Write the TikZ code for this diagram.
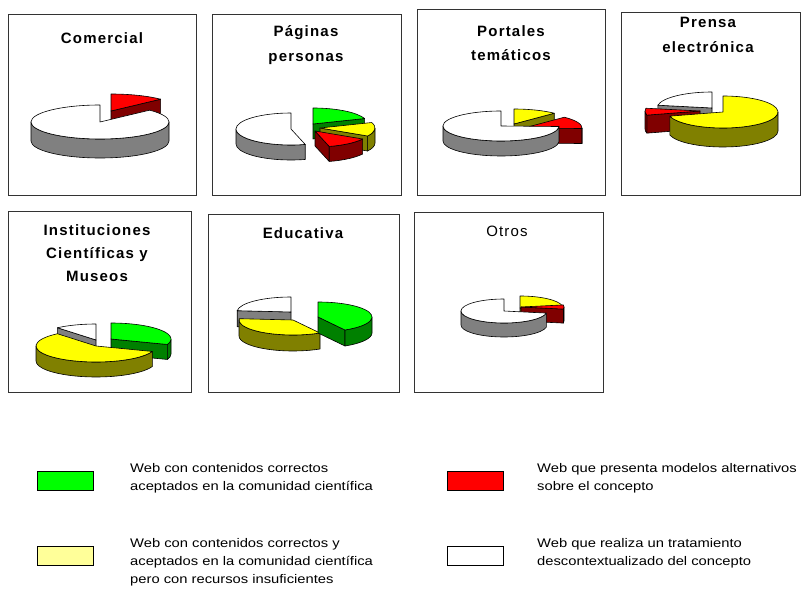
\documentclass[tikz,border=0pt]{standalone}
\usepackage{fontspec}
\setmainfont{Liberation Sans}
\newfontfamily\ttlfont[LetterSpace=8]{Liberation Sans}
\newfontfamily\legfont[FakeStretch=1.18]{Liberation Sans}
\definecolor{pgreen}{HTML}{00FF00}
\definecolor{dgreen}{HTML}{008000}
\definecolor{pyellow}{HTML}{FFFF00}
\definecolor{dyellow}{HTML}{808000}
\definecolor{pred}{HTML}{FF0000}
\definecolor{dred}{HTML}{800000}
\definecolor{pwhite}{HTML}{FFFFFF}
\definecolor{dwhite}{HTML}{808080}
\definecolor{lyellow}{HTML}{FFFF99}
\tikzset{
  slice/.style={draw=black,line width=0.6pt,line join=round},
  panel/.style={draw=black!80,line width=0.8pt,fill=white},
  ttl/.style={anchor=base,inner sep=0pt,font=\ttlfont\bfseries\fontsize{15}{18}\selectfont},
  legbox/.style={draw=black,line width=0.6pt,minimum width=56pt,minimum height=19pt,inner sep=0pt},
  legtxt/.style={anchor=north west,inner sep=0pt,align=left,font=\legfont\fontsize{12.5}{18}\selectfont}
}
% #1 cx, #2 cy, #3 rx, #4 ry, #5 h, #6 start, #7 end, #8 top colour, #9 side colour
\newcommand\pieslice[9]{%
\begingroup
\pgfmathtruncatemacro\pvA{cos(#6)>0.02}%
\pgfmathtruncatemacro\pvB{cos(#7)<-0.02}%
\ifnum\pvA=1
 \filldraw[slice,fill=#9] (#1,#2) -- ++(#6:#3pt and #4pt) -- ++(0,-#5) -- ++({-#3*cos(#6)},{-#4*sin(#6)}) -- cycle;
\fi
\ifnum\pvB=1
 \filldraw[slice,fill=#9] (#1,#2) -- ++(#7:#3pt and #4pt) -- ++(0,-#5) -- ++({-#3*cos(#7)},{-#4*sin(#7)}) -- cycle;
\fi
\pgfmathsetmacro\psA{max(#6,180)}%
\pgfmathsetmacro\peA{min(#7,360)}%
\pgfmathtruncatemacro\phA{\peA>\psA+0.5}%
\ifnum\phA=1
 \filldraw[slice,fill=#9] (#1,#2) ++(\psA:#3pt and #4pt) arc[start angle=\psA,end angle=\peA,x radius=#3pt,y radius=#4pt] -- ++(0,-#5) arc[start angle=\peA,end angle=\psA,x radius=#3pt,y radius=#4pt] -- cycle;
\fi
\pgfmathsetmacro\psB{max(#6,540)}%
\pgfmathsetmacro\peB{min(#7,720)}%
\pgfmathtruncatemacro\phB{\peB>\psB+0.5}%
\ifnum\phB=1
 \filldraw[slice,fill=#9] (#1,#2) ++(\psB:#3pt and #4pt) arc[start angle=\psB,end angle=\peB,x radius=#3pt,y radius=#4pt] -- ++(0,-#5) arc[start angle=\peB,end angle=\psB,x radius=#3pt,y radius=#4pt] -- cycle;
\fi
\filldraw[slice,fill=#8] (#1,#2) -- ++(#6:#3pt and #4pt) arc[start angle=#6,end angle=#7,x radius=#3pt,y radius=#4pt] -- cycle;
\endgroup}
\begin{document}
\begin{tikzpicture}[x=1pt,y=1pt]
\fill[white] (0,0) rectangle (802,590);
\useasboundingbox (0,0) rectangle (802,590);
% panels
\draw[panel] (8,395) rectangle (196,576);
\draw[panel] (212,395) rectangle (401,576);
\draw[panel] (417,395) rectangle (605,581);
\draw[panel] (621,395) rectangle (800.5,578);
\draw[panel] (8,198) rectangle (191,379);
\draw[panel] (208,198) rectangle (399,376);
\draw[panel] (414,198) rectangle (603,378);
% titles
\node[ttl] (t1) at (102,546.7) {Comercial};
\node[ttl] (t2a) at (306,553.5) {Páginas};
\node[ttl] (t2b) at (306,528.5) {personas};
\node[ttl] (t3a) at (511,553.3) {Portales};
\node[ttl] (t3b) at (511,529.3) {temáticos};
\node[ttl] (t4a) at (708,562) {Prensa};
\node[ttl] (t4b) at (708,537) {electrónica};
\node[ttl] (t5a) at (97,355) {Instituciones};
\node[ttl] (t5b) at (97,331.7) {Científicas y};
\node[ttl] (t5c) at (97,308.3) {Museos};
\node[ttl] (t6) at (303,351.7) {Educativa};
\node[ttl,font=\ttlfont\fontsize{15}{18}\selectfont] (t7) at (507,353.3) {Otros};
% pie 1: Comercial
\pieslice{111}{479}{69}{17}{19}{44}{90}{pred}{dred}
\pieslice{100}{468}{69}{17}{19}{90}{404}{pwhite}{dwhite}
% pie 2: Paginas personas
\pieslice{291}{461}{55}{16}{15}{90}{285}{pwhite}{dwhite}
\pieslice{313}{466}{55}{16}{15}{20}{90}{pgreen}{dgreen}
\pieslice{320}{462}{55}{16}{15}{330}{380}{pyellow}{dyellow}
\pieslice{315}{459}{55}{16}{15}{285}{330}{pred}{dred}
% pie 3: Portales tematicos
\pieslice{514}{466}{58}{15}{15}{46}{90}{pyellow}{dyellow}
\pieslice{524}{462}{58}{15}{15}{358}{406}{pred}{dred}
\pieslice{501}{464}{58}{15}{15}{90}{358}{pwhite}{dwhite}
% pie 4: Prensa electronica
\pieslice{712}{482}{55}{16}{19}{90}{170}{pwhite}{dwhite}
\pieslice{700}{479}{55}{16}{18}{170}{195}{pred}{dred}
\pieslice{723}{478}{55}{16}{19}{195}{450}{pyellow}{dyellow}
% pie 5: Instituciones
\pieslice{96}{250}{60}{16}{15}{90}{130}{pwhite}{dwhite}
\pieslice{111}{251}{60}{16}{15}{340}{450}{pgreen}{dgreen}
\pieslice{96}{244}{60}{16}{15}{130}{340}{pyellow}{dyellow}
% pie 6: Educativa
\pieslice{291}{278}{54}{15}{16}{90}{175}{pwhite}{dwhite}
\pieslice{293}{270}{54}{15}{16}{175}{300}{pyellow}{dyellow}
\pieslice{318}{273}{54}{15}{16}{300}{450}{pgreen}{dgreen}
% pie 7: Otros
\pieslice{520}{282}{43}{12}{14}{10}{90}{pyellow}{dyellow}
\pieslice{521}{283}{43}{12}{14}{350}{370}{pred}{dred}
\pieslice{504}{279}{43}{12}{14}{90}{350}{pwhite}{dwhite}
% legend
\node[legbox,fill=pgreen] (kG) at (65.5,109.5) {};
\node[legtxt] (lG) at (130,127) {Web con contenidos correctos\\aceptados en la comunidad científica};
\node[legbox,fill=pred] (kR) at (475.5,109.5) {};
\node[legtxt] (lR) at (537,127) {Web que presenta modelos alternativos\\sobre el concepto};
\node[legbox,fill=lyellow] (kY) at (65.5,34.5) {};
\node[legtxt] (lY) at (130,52) {Web con contenidos correctos y\\aceptados en la comunidad científica\\pero con recursos insuficientes};
\node[legbox,fill=white] (kW) at (475.5,34.5) {};
\node[legtxt] (lW) at (537,52) {Web que realiza un tratamiento\\descontextualizado del concepto};
\end{tikzpicture}
\end{document}
